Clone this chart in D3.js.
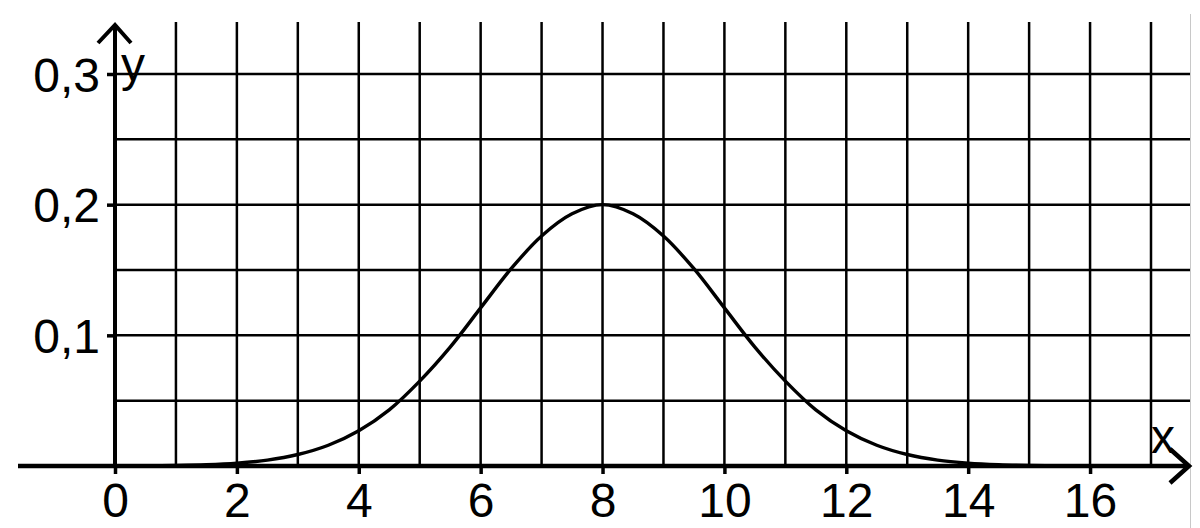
<!DOCTYPE html>
<html>
<head>
<meta charset="utf-8">
<script src="https://cdn.jsdelivr.net/npm/d3@7"></script>
<style>
  html, body { margin: 0; padding: 0; background: #fff; }
  svg { display: block; }
  text { font-family: "Liberation Sans", Arial, sans-serif; fill: #000; }
</style>
</head>
<body>
<svg id="chart" width="1200" height="528"></svg>
<script>
// ---- data ----
const xTickValues = [0, 2, 4, 6, 8, 10, 12, 14, 16];
const yTickValues = [0.1, 0.2, 0.3];
const yTickLabels = ["0,1", "0,2", "0,3"];
const gridXValues = [1, 2, 3, 4, 5, 6, 7, 8, 9, 10, 11, 12, 13, 14, 15, 16, 17];
const gridYValues = [0.05, 0.1, 0.15, 0.2, 0.25, 0.3];
const curveX = [-1.5, -1, -0.5, 0, 0.5, 1, 1.5, 2, 2.5, 3, 3.5, 4, 4.5, 5, 5.5, 6, 6.5, 7, 7.5, 8,
                8.5, 9, 9.5, 10, 10.5, 11, 11.5, 12, 12.5, 13, 13.5, 14, 14.5, 15, 15.5, 16, 16.5, 17, 17.5];
const curveY = [0, 0, 0, 0.00007, 0.00018, 0.00044, 0.001, 0.0022, 0.0045, 0.0088, 0.0159, 0.027, 0.043, 0.065, 0.091, 0.121, 0.151, 0.176, 0.193, 0.2,
                0.193, 0.176, 0.151, 0.121, 0.091, 0.065, 0.043, 0.027, 0.0159, 0.0088, 0.0045, 0.0022, 0.001, 0.00044, 0.00018, 0.00007, 0.00002, 0, 0];

// ---- layout ----
const svg = d3.select("#chart");
const x = d3.scaleLinear().domain([0, 17]).range([115, 1151]);
const y = d3.scaleLinear().domain([0, 0.3]).range([466, 74]);
const gridTop = 22;
const gridRight = 1190;
const axisLeft = 18;
const fontSize = 48;

// right border line (faint)
svg.append("line")
  .attr("x1", 1190.5).attr("x2", 1190.5).attr("y1", 14).attr("y2", 528)
  .attr("stroke", "#c8c8c8").attr("stroke-width", 1);

// grid
const grid = svg.append("g").attr("stroke", "#000").attr("stroke-width", 2.5);
grid.selectAll("line.gx").data(gridXValues).join("line")
  .attr("class", "gx")
  .attr("x1", d => x(d)).attr("x2", d => x(d))
  .attr("y1", gridTop).attr("y2", y(0));
grid.selectAll("line.gy").data(gridYValues).join("line")
  .attr("class", "gy")
  .attr("x1", x(0)).attr("x2", gridRight)
  .attr("y1", d => y(d)).attr("y2", d => y(d));

// x axis
const xAxis = d3.axisBottom(x).tickValues(xTickValues).tickSize(8).tickSizeOuter(0).tickFormat(d3.format("d"));
const gx = svg.append("g").attr("transform", `translate(0,${y(0)})`).call(xAxis);
gx.select(".domain").remove();
gx.selectAll(".tick line").attr("stroke", "#000").attr("stroke-width", 3.5);
gx.selectAll(".tick text").attr("y", 51).attr("dy", 0)
  .style("font-size", fontSize + "px").style("font-family", "'Liberation Sans', Arial, sans-serif").attr("fill", "#000");

// y axis
const yAxis = d3.axisLeft(y).tickValues(yTickValues).tickSize(8).tickSizeOuter(0)
  .tickFormat((d, i) => yTickLabels[i]);
const gy = svg.append("g").attr("transform", `translate(${x(0)},0)`).call(yAxis);
gy.select(".domain").remove();
gy.selectAll(".tick line").attr("stroke", "#000").attr("stroke-width", 3.5);
gy.selectAll(".tick text").attr("x", -15).attr("dy", 0).attr("y", 17)
  .style("font-size", fontSize + "px").style("font-family", "'Liberation Sans', Arial, sans-serif").attr("fill", "#000");

// curve
const line = d3.line().x((d, i) => x(curveX[i])).y(d => y(d)).curve(d3.curveCatmullRom.alpha(0.5));
svg.append("path").datum(curveY)
  .attr("d", line)
  .attr("fill", "none").attr("stroke", "#000").attr("stroke-width", 3.4);

// axis lines with arrows
svg.append("line").attr("x1", axisLeft).attr("x2", gridRight - 1).attr("y1", y(0)).attr("y2", y(0))
  .attr("stroke", "#000").attr("stroke-width", 4.5);
svg.append("path")
  .attr("d", `M${gridRight - 20},${y(0) - 17} L${gridRight - 1},${y(0)} L${gridRight - 20},${y(0) + 17}`)
  .attr("fill", "none").attr("stroke", "#000").attr("stroke-width", 4.5);

svg.append("line").attr("x1", x(0)).attr("x2", x(0)).attr("y1", y(0) + 1).attr("y2", 25)
  .attr("stroke", "#000").attr("stroke-width", 4);
svg.append("path")
  .attr("d", `M${x(0) - 17},43 L${x(0)},25 L${x(0) + 16},43`)
  .attr("fill", "none").attr("stroke", "#000").attr("stroke-width", 4);

// axis names
svg.append("text").attr("x", 121).attr("y", 81).style("font-size", fontSize + "px").text("y");
svg.append("text").attr("x", 1151).attr("y", 453).style("font-size", fontSize + "px").text("x");
</script>
</body>
</html>
